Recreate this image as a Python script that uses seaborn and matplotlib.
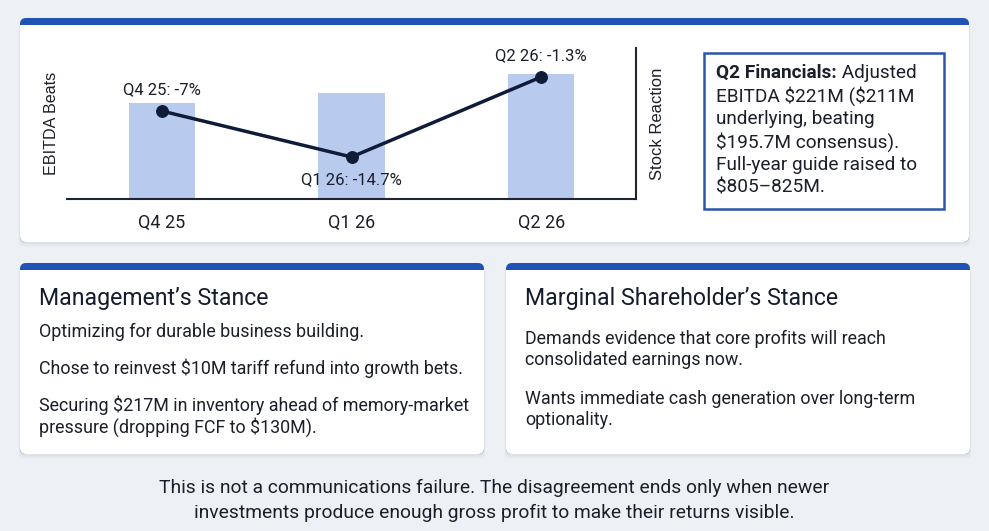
import matplotlib
matplotlib.use("Agg")
import matplotlib.pyplot as plt
import seaborn as sns
import pandas as pd
from matplotlib.patches import FancyBboxPatch, Rectangle
from matplotlib import font_manager as fm

# ---------------- data ----------------
quarters = ["Q4 25", "Q1 26", "Q2 26"]
ebitda_beats = [9.6, 10.6, 12.5]          # relative bar heights (no scale shown)
stock_reaction = [-7.0, -14.7, -1.3]      # % stock move after earnings
reaction_labels = ["Q4 25: -7%", "Q1 26: -14.7%", "Q2 26: -1.3%"]

fin_bold = "Q2 Financials:"
fin_lines = [" Adjusted", "EBITDA $221M ($211M", "underlying, beating",
             "$195.7M consensus).", "Full-year guide raised to", "$805–825M."]

mgmt_title = "Management’s Stance"
mgmt_lines = ["Optimizing for durable business building.",
              "Chose to reinvest $10M tariff refund into growth bets.",
              "Securing $217M in inventory ahead of memory-market",
              "pressure (dropping FCF to $130M)."]
share_title = "Marginal Shareholder’s Stance"
share_lines = ["Demands evidence that core profits will reach",
               "consolidated earnings now.",
               "Wants immediate cash generation over long-term",
               "optionality."]
footer_lines = ["This is not a communications failure. The disagreement ends only when newer",
                "investments produce enough gross profit to make their returns visible."]

# ---------------- style ----------------
BG = "#edf0f4"
BLUE = "#2152b6"
BAR = "#b8cbee"
LINE = "#101b38"
TXT = "#1b1f2a"
TITLE = "#151c2e"

sns.set_theme(style="white")
names = {f.name for f in fm.fontManager.ttflist}
main_font = next((n for n in ["Roboto", "Inter", "Open Sans"] if n in names), "DejaVu Sans")
arial = next((n for n in ["Liberation Sans", "Roboto"] if n in names), main_font)
plt.rcParams["font.family"] = [main_font, "DejaVu Sans"]

W, H = 989, 531
fig = plt.figure(figsize=(W / 100, H / 100), dpi=100)
fig.patch.set_facecolor(BG)

bg = fig.add_axes([0, 0, 1, 1], zorder=0)
bg.set_xlim(0, W)
bg.set_ylim(H, 0)
bg.axis("off")


def card(x0, y0, x1, y1):
    r = 6
    for k, a in [(5, 0.04), (3.5, 0.05), (2, 0.07)]:
        bg.add_patch(FancyBboxPatch((x0 - k * 0.3, y0 + k), x1 - x0 + k * 0.6, y1 - y0,
                                    boxstyle=f"round,pad=0,rounding_size={r}",
                                    fc="#8a93a6", ec="none", alpha=a))
    bg.add_patch(FancyBboxPatch((x0, y0), x1 - x0, y1 - y0,
                                boxstyle=f"round,pad=0,rounding_size={r}", fc=BLUE, ec="none"))
    bg.add_patch(FancyBboxPatch((x0, y0 + 7), x1 - x0, y1 - y0 - 7,
                                boxstyle=f"round,pad=0,rounding_size={r}", fc="white", ec="none"))
    bg.add_patch(Rectangle((x0, y0 + 7), x1 - x0, 12, fc="white", ec="none"))


card(20, 18, 969, 242)
card(20, 263, 484, 454)
card(506, 263, 970, 454)

# ---------------- chart ----------------
df = pd.DataFrame({"quarter": quarters, "ebitda": ebitda_beats,
                   "reaction": stock_reaction, "pos": range(len(quarters))})

ax = fig.add_axes([67 / W, (H - 199) / H, (636 - 67) / W, (199 - 48) / H], zorder=2)
ax.patch.set_alpha(0)
sns.barplot(data=df, x="quarter", y="ebitda", ax=ax, color=BAR, width=0.35,
            saturation=1, edgecolor="none")
ax.set_ylim(0, 15.1)
ax.set_xlim(-0.5, 2.5)
ax.set_xlabel("")
ax.set_ylabel("")
ax.set_yticks([])
ax.tick_params(axis="x", length=0, pad=11, labelsize=13, colors=TXT)
for s in ["left", "top", "right"]:
    ax.spines[s].set_visible(False)
ax.spines["bottom"].set_color("#1f2633")
ax.spines["bottom"].set_linewidth(1.5)
ax.text(-0.028, 0.5, "EBITDA Beats", transform=ax.transAxes, rotation=90,
        ha="center", va="center", fontsize=11.6, family=arial, color=TXT)

ax2 = ax.twinx()
ax2.patch.set_alpha(0)
sns.lineplot(data=df, x="pos", y="reaction", ax=ax2, color=LINE, linewidth=2.5,
             marker="o", markersize=8.5, markeredgecolor=LINE, markerfacecolor=LINE)
ax2.set_ylim(-21.74, 3.56)
ax.set_xlim(-0.5, 2.5)
ax2.set_xlabel("")
ax2.set_ylabel("")
ax2.set_yticks([])
for s in ["left", "top", "bottom"]:
    ax2.spines[s].set_visible(False)
ax2.spines["right"].set_color("#1f2633")
ax2.spines["right"].set_linewidth(1.5)
ax2.text(1.038, 0.5, "Stock Reaction", transform=ax.transAxes, rotation=90,
         ha="center", va="center", fontsize=12, family=arial, color=TXT)

low = min(stock_reaction)
for i, (v, lab) in enumerate(zip(stock_reaction, reaction_labels)):
    dy = -23 if v == low else 21
    ax2.annotate(lab, xy=(i, v), xytext=(0, dy), textcoords="offset pixels",
                 ha="center", va="center", fontsize=12, color=TXT)

# ---------------- financials box ----------------
FS = 13.7
bg.add_patch(Rectangle((704, 53), 240, 156, fc="white", ec="#2a55a8", lw=1.8, zorder=3))
t0 = bg.text(716, 73, fin_bold, fontsize=FS, fontweight="bold", color=TXT,
             va="center", ha="left", parse_math=False, zorder=4)
bg.annotate(fin_lines[0], xy=(1, 0), xycoords=t0, va="bottom", ha="left",
            fontsize=FS, color=TXT, annotation_clip=False, zorder=4)
for k, line in enumerate(fin_lines[1:], start=1):
    bg.text(716, 73 + 23 * k, line, fontsize=FS, color=TXT, va="center", ha="left",
            parse_math=False, zorder=4)

# ---------------- stance cards ----------------
bg.text(39, 298, mgmt_title, fontsize=16.7, color=TITLE, va="center", ha="left")
for y, line in zip([332, 368, 405, 427], mgmt_lines):
    bg.text(39, y, line, fontsize=12.85, color=TXT, va="center", ha="left", parse_math=False)

bg.text(525, 298, share_title, fontsize=16.7, color=TITLE, va="center", ha="left")
for y, line in zip([339, 360, 399, 420], share_lines):
    bg.text(525, y, line, fontsize=12.85, color=TXT, va="center", ha="left", parse_math=False)

for y, line in zip([488, 513], footer_lines):
    bg.text(494, y, line, fontsize=13.9, color=TXT, va="center", ha="center",
            parse_math=False)

fig.savefig("out.png", dpi=100, facecolor=BG)
